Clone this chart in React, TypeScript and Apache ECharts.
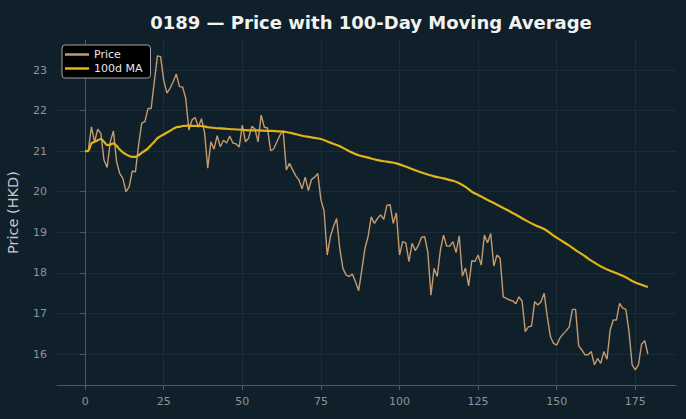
import React, { useEffect, useRef } from "react";
import * as echarts from "echarts";

const titleText = "0189 — Price with 100-Day Moving Average";
const yAxisName = "Price (HKD)";
const xTicks = [0, 25, 50, 75, 100, 125, 150, 175];
const yTicks = [16, 17, 18, 19, 20, 21, 22, 23];

const price = [
  21.0, 21.02, 21.6, 21.23, 21.54, 21.44, 20.78, 20.6, 21.23, 21.5,
  20.74, 20.45, 20.33, 20.0, 20.12, 20.51, 20.49, 21.15, 21.69, 21.73,
  22.05, 22.05, 22.71, 23.35, 23.33, 22.75, 22.43, 22.55, 22.71, 22.9,
  22.59, 22.58, 22.3, 21.52, 21.77, 21.83, 21.59, 21.8, 21.45, 20.58,
  21.23, 21.05, 21.38, 21.11, 21.27, 21.2, 21.37, 21.2, 21.18, 21.1,
  21.64, 21.23, 21.32, 21.61, 21.55, 21.23, 21.89, 21.59, 21.57, 21.01,
  21.06, 21.23, 21.4, 21.5, 20.54, 20.7, 20.54, 20.39, 20.29, 20.07,
  20.36, 20.03, 20.3, 20.36, 20.45, 19.8, 19.53, 18.44, 18.89, 19.14,
  19.34, 18.6, 18.11, 17.95, 17.91, 17.97, 17.78, 17.56, 18.07, 18.6,
  18.89, 19.38, 19.22, 19.34, 19.43, 19.32, 19.67, 19.68, 19.22, 19.48,
  18.44, 18.77, 18.74, 18.28, 18.73, 18.55, 18.68, 18.88, 18.89, 18.52,
  17.45, 18.11, 17.91, 18.56, 18.93, 18.66, 18.66, 18.77, 18.5, 18.91,
  17.92, 18.12, 17.68, 18.3, 18.28, 18.44, 18.19, 18.93, 18.74, 18.97,
  18.17, 18.44, 18.36, 17.41, 17.37, 17.33, 17.31, 17.24, 17.41, 17.3,
  16.55, 16.67, 16.69, 17.29, 17.21, 17.29, 17.5, 16.92, 16.43, 16.26,
  16.22, 16.39, 16.49, 16.57, 16.67, 17.1, 17.1, 16.2, 16.1, 15.98,
  15.98, 16.06, 15.73, 15.89, 15.77, 16.06, 15.87, 16.59, 16.84, 16.84,
  17.25, 17.13, 17.1, 16.55, 15.73, 15.61, 15.73, 16.24, 16.33, 16.0,
];

// 100-day moving average at these day indices
const maDays = [
  0, 1, 2, 3, 4, 5, 6, 7, 8, 9, 10, 11, 12, 13, 14, 15, 16, 17, 18, 19,
  20, 21, 22, 23, 24, 25, 26, 27, 28, 29, 30, 31, 33, 35, 37, 39, 43, 47,
  51, 55, 59, 63, 66, 69, 72, 75, 78, 81, 84, 87, 90, 93, 96, 99, 102, 105,
  108, 111, 114, 117, 119, 121, 123, 125, 127, 130, 133, 135, 138, 140, 143,
  146, 149, 151, 154, 156, 159, 161, 164, 167, 170, 172, 174, 176, 179,
];
const maValues = [
  21.0, 21.01, 21.19, 21.23, 21.27, 21.3, 21.23, 21.15, 21.16, 21.19, 21.13,
  21.04, 20.97, 20.92, 20.88, 20.86, 20.86, 20.9, 20.96, 21.01, 21.07, 21.15,
  21.23, 21.32, 21.37, 21.41, 21.46, 21.5, 21.55, 21.59, 21.6, 21.62, 21.63,
  21.62, 21.62, 21.59, 21.56, 21.54, 21.52, 21.51, 21.5, 21.48, 21.44, 21.38,
  21.34, 21.3, 21.21, 21.12, 21.0, 20.9, 20.84, 20.78, 20.74, 20.7, 20.62,
  20.53, 20.45, 20.38, 20.33, 20.27, 20.21, 20.12, 20.0, 19.92, 19.84, 19.72,
  19.6, 19.52, 19.39, 19.3, 19.18, 19.08, 18.92, 18.82, 18.67, 18.56, 18.41,
  18.3, 18.16, 18.05, 17.96, 17.89, 17.8, 17.73, 17.65,
];

const BG = "#10202a";
const GRID = "#1b2c36";
const AXIS = "#4e585e";
const TICKTXT = "#8c9499";
const FONT = "DejaVu Sans";

export default function App() {
  const ref = useRef<HTMLDivElement>(null);
  useEffect(() => {
    document.body.style.margin = "0";
    if (!ref.current) return;
    const chart = echarts.init(ref.current, undefined, { renderer: "svg" });
    const priceData = price.map((v, i) => [i, v]);
    const maData = maDays.map((d, i) => [d, maValues[i]]);
    chart.setOption({
      animation: false,
      backgroundColor: BG,
      textStyle: { fontFamily: FONT },
      title: {
        text: titleText,
        left: 366,
        top: 8,
        textAlign: "center",
        textStyle: { color: "#f2f2f2", fontSize: 18, fontWeight: "bold", fontFamily: FONT },
      },
      legend: {
        left: 62,
        top: 45,
        orient: "vertical",
        backgroundColor: "#000000",
        borderColor: "#a0a0a0",
        borderWidth: 1,
        borderRadius: 3,
        padding: [4, 8, 4, 3],
        itemGap: 3,
        itemWidth: 24,
        itemHeight: 2.5,
        icon: "rect",
        textStyle: { color: "#e6e6e6", fontSize: 11, fontFamily: FONT },
        data: [
          { name: "Price", itemStyle: { color: "#c59a6d" } },
          { name: "100d MA", itemStyle: { color: "#e0b418" } },
        ],
      },
      grid: { left: 57, right: 10, top: 40, bottom: 34, outerBoundsMode: "none", containLabel: false },
      xAxis: {
        type: "value",
        min: -8.95,
        max: 187.95,
        axisLine: { show: true, lineStyle: { color: AXIS, width: 1 } },
        axisTick: { show: true, length: 5, lineStyle: { color: AXIS }, customValues: xTicks },
        axisLabel: { color: TICKTXT, fontSize: 11, margin: 11, customValues: xTicks, fontFamily: FONT },
        splitLine: { show: true, lineStyle: { color: GRID, width: 1 } },
      },
      yAxis: {
        type: "value",
        min: 15.236,
        max: 23.74,
        name: yAxisName,
        nameLocation: "middle",
        nameGap: 37,
        nameRotate: 90,
        nameTextStyle: { color: "#c3c7c9", fontSize: 14.5, fontFamily: FONT },
        axisLine: { show: true, lineStyle: { color: AXIS, width: 1 } },
        axisTick: { show: true, length: 5, lineStyle: { color: AXIS }, customValues: yTicks },
        axisLabel: { color: TICKTXT, fontSize: 11, margin: 10, customValues: yTicks, fontFamily: FONT },
        splitLine: { show: true, lineStyle: { color: GRID, width: 1 } },
      },
      series: [
        {
          name: "Price",
          type: "line",
          data: priceData,
          showSymbol: false,
          symbol: "none",
          lineStyle: { color: "#c59a6d", width: 1.4 },
          itemStyle: { color: "#c59a6d" },
          z: 2,
        },
        {
          name: "100d MA",
          type: "line",
          data: maData,
          showSymbol: false,
          symbol: "none",
          smooth: 0.3,
          lineStyle: { color: "#e0b418", width: 2.2 },
          itemStyle: { color: "#e0b418" },
          z: 3,
        },
      ],
    });
    return () => chart.dispose();
  }, []);
  return (
    <div
      ref={ref}
      style={{ position: "absolute", left: 0, top: 0, width: 686, height: 419 }}
    />
  );
}
